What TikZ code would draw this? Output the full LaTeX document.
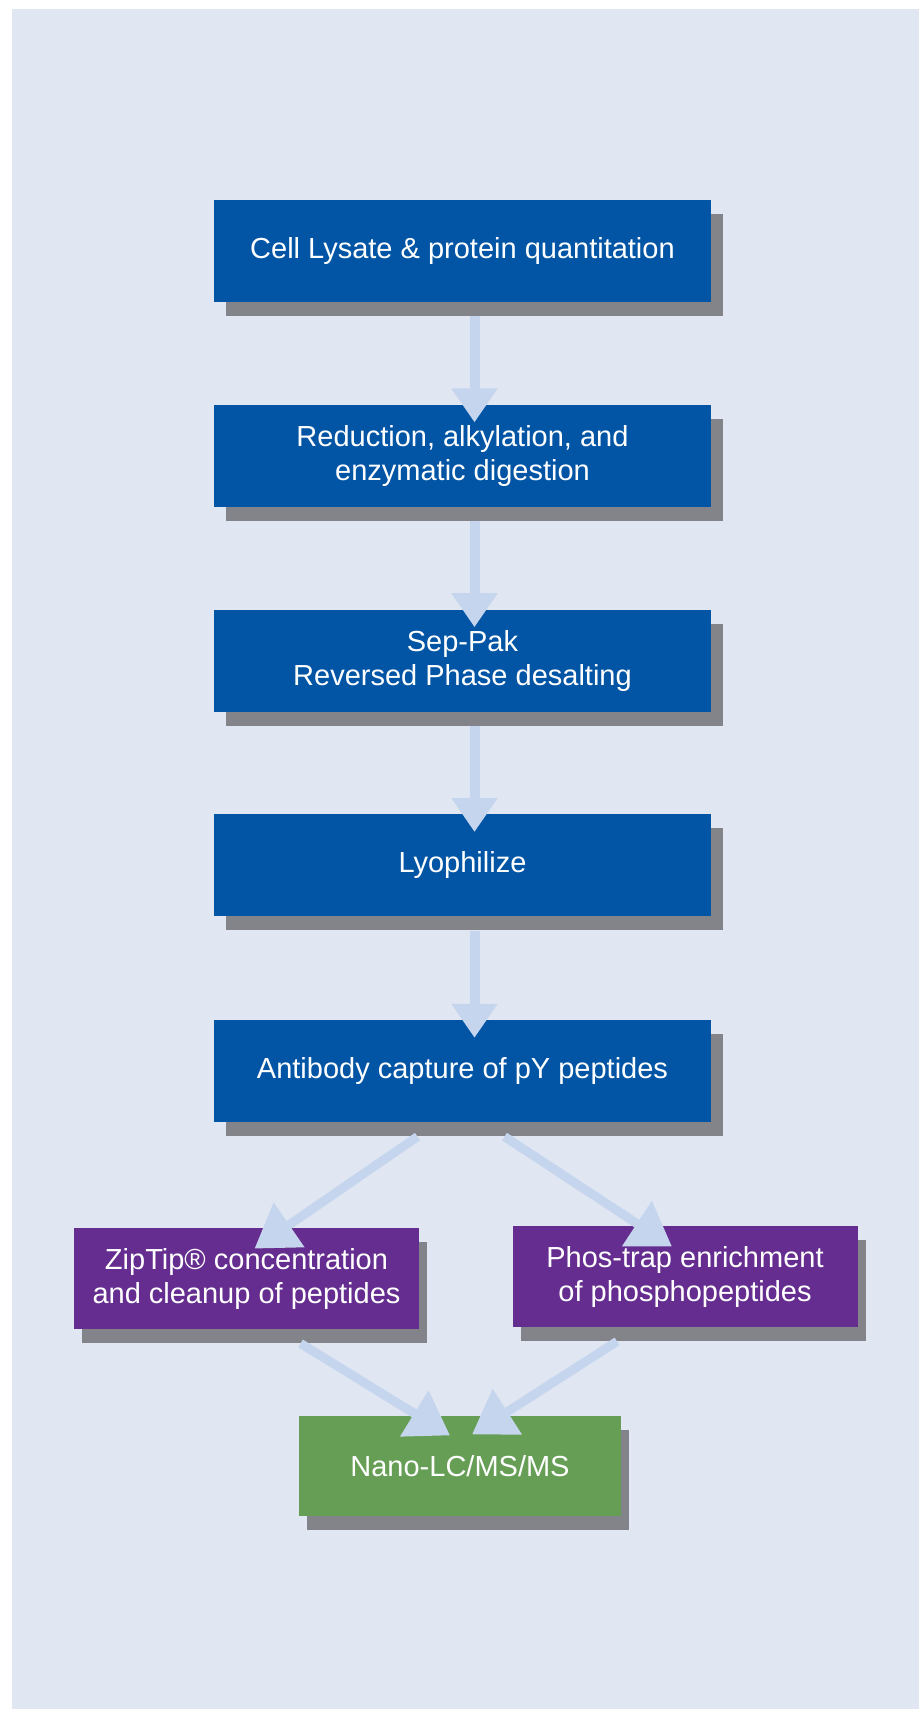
\documentclass[tikz,border=0pt]{standalone}
\usepackage{fontspec}
\setmainfont{Liberation Sans}
\usepackage{xcolor}
\usetikzlibrary{positioning,shadows,arrows.meta}
\definecolor{panelBg}{RGB}{224,230,242}
\definecolor{stepBlue}{RGB}{2,85,165}
\definecolor{stepPurple}{RGB}{101,45,143}
\definecolor{stepGreen}{RGB}{101,158,84}
\definecolor{shadowGray}{RGB}{131,132,137}
\definecolor{flowBlue}{RGB}{198,213,238}

\begin{document}
\begin{tikzpicture}[node distance=51pt, auto]
	% Define styles for boxes
	\tikzset{
		bluebox/.style={
			rectangle,
			fill=stepBlue,
			text=white,
			minimum width=248.5pt,
			minimum height=51pt,
			align=center,
			font=\fontsize{14.5}{17}\selectfont,
			drop shadow={shadow xshift=6pt, shadow yshift=-7pt, fill=shadowGray, opacity=1}
		},
		purplebox/.style={
			rectangle,
			fill=stepPurple,
			text=white,
			minimum width=172.5pt,
			minimum height=50.5pt,
			align=center,
			font=\fontsize{14.5}{17}\selectfont,
			drop shadow={shadow xshift=4pt, shadow yshift=-7pt, fill=shadowGray, opacity=1}
		},
		greenbox/.style={
			purplebox,
			fill=stepGreen,
			minimum width=161pt,
			minimum height=50pt
		},
		flow/.style={
			draw=flowBlue,
			line width=5pt,
			-{Triangle[width=22pt,length=17pt]}
		},
		diagflow/.style={
			draw=flowBlue,
			line width=4.5pt,
			-{Triangle[width=26pt,length=21pt]}
		}
	}
	
	% Panel
	\useasboundingbox (0,0) rectangle (459.5pt,-854.5pt);
	\fill[panelBg] (6pt,-4.5pt) rectangle (459.5pt,-854.5pt);
	
	% Nodes for the main column
	\node[bluebox] (lysate) at (231.25pt,-125.5pt) {Cell Lysate \& protein quantitation};
	\node[bluebox, below=of lysate] (reduction) {Reduction, alkylation, and\\enzymatic digestion};
	\node[bluebox, below=of reduction] (sepPak) {Sep-Pak\\Reversed Phase desalting};
	\node[bluebox, below=of sepPak] (lyophilize) {Lyophilize};
	\node[bluebox, below=51.5pt of lyophilize] (antibody) {Antibody capture of pY peptides};
	
	% Nodes for the two enrichment branches
	\node[purplebox, below=52.5pt of antibody, xshift=-108pt] (zipTip) {ZipTip® concentration\\and cleanup of peptides};
	\node[purplebox, below=51.5pt of antibody, xshift=111.25pt] (phosTrap) {Phos-trap enrichment\\of phosphopeptides};
	
	% Output node
	\node[greenbox, below=43pt of zipTip, xshift=106.75pt] (nanoLC) {Nano-LC/MS/MS};
	
	% Arrows for the main column
	\draw[flow] ([xshift=6pt,yshift=-7pt]lysate.south) -- ([xshift=6pt,yshift=-9pt]reduction.north);
	\draw[flow] ([xshift=6pt,yshift=-7pt]reduction.south) -- ([xshift=6pt,yshift=-9pt]sepPak.north);
	\draw[flow] ([xshift=6pt,yshift=-7pt]sepPak.south) -- ([xshift=6pt,yshift=-9pt]lyophilize.north);
	\draw[flow] ([xshift=6pt,yshift=-7pt]lyophilize.south) -- ([xshift=6pt,yshift=-9pt]antibody.north);
	
	% Arrows into and out of the branches
	\draw[diagflow] ([xshift=-22.5pt,yshift=-7pt]antibody.south) -- ([xshift=4pt,yshift=-10.5pt]zipTip.north);
	\draw[diagflow] ([xshift=21pt,yshift=-7pt]antibody.south) -- ([xshift=-6.5pt,yshift=-10.5pt]phosTrap.north);
	\draw[diagflow] ([xshift=27pt,yshift=-7pt]zipTip.south) -- ([xshift=-5pt,yshift=-10pt]nanoLC.north);
	\draw[diagflow] ([xshift=-34pt,yshift=-7pt]phosTrap.south) -- ([xshift=6pt,yshift=-9.5pt]nanoLC.north);
\end{tikzpicture}
\end{document}
